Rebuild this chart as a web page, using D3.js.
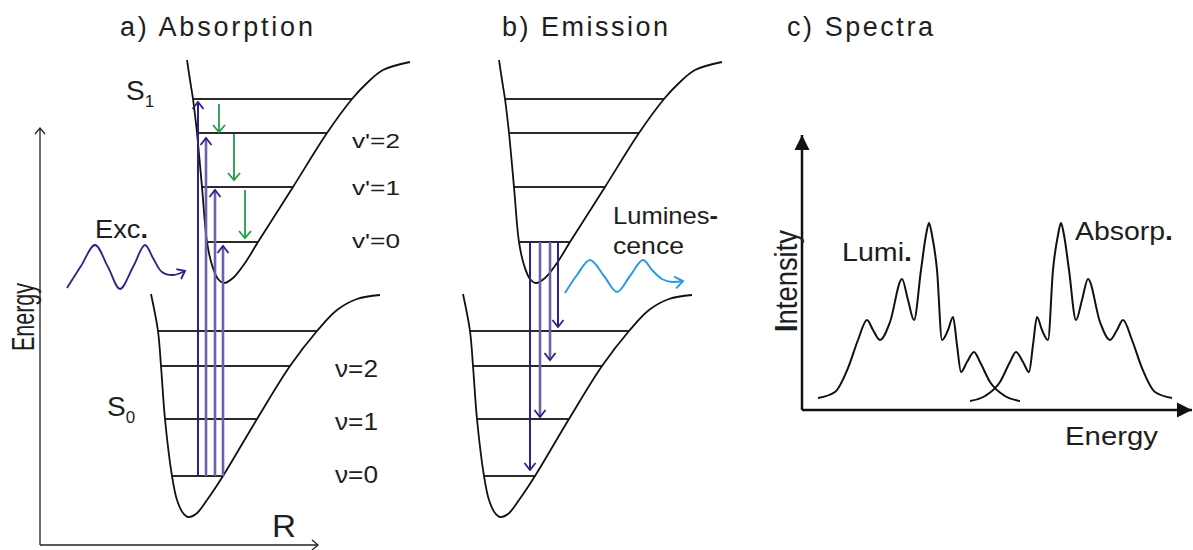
<!DOCTYPE html>
<html lang="en">
<head>
<meta charset="UTF-8">
<title>Absorption / emission / spectra</title>
<script src="https://d3js.org/d3.v7.min.js"></script>
<style>
  body, html { margin: 0; background: #fff; }
  text { font-family: "Liberation Sans", Arial, sans-serif; fill: #1e1e1e; }
</style>
</head>
<body>
<div id="chart"></div>
<script>
// potential curves as (R, E) pairs, arbitrary units
var s1Curve = [[14.7,48.7],[15.0,46.7],[15.3,44.8],[15.7,41.4],[16.2,36.0],[16.7,30.5],[17.2,28.2],[17.8,26.8],
  [18.4,26.4],[19.3,26.9],[20.5,28.4],[21.8,30.5],[25.3,36.0],[28.7,41.4],[31.2,44.8],[32.7,46.4],[34.3,47.7],[37.0,48.5]];
var s0Curve = [[11.1,25.3],[11.8,21.6],[12.1,18.1],[12.5,12.8],[13.2,7.1],[13.7,4.7],[14.3,3.4],[14.8,3.0],[15.6,3.3],
  [16.7,4.7],[18.3,7.1],[21.7,12.8],[25.0,18.1],[27.7,21.6],[29.7,23.7],[31.7,24.8],[34.0,25.2]];

// vibrational levels (energy, left and right R)
var s1LevelE = [44.8, 41.4, 36.0, 30.5];
var s1LevelLeft = [15.3, 15.8, 16.1, 16.8];
var s1LevelRight = [31.2, 28.7, 25.3, 21.8];
var s0LevelE = [21.6, 18.1, 12.8, 7.1];
var s0LevelLeft = [11.8, 12.1, 12.5, 13.2];
var s0LevelRight = [27.7, 25.0, 21.7, 18.3];
var s1Labels = ["v'=2", "v'=1", "v'=0"];
var s0Labels = ["\u03bd=2", "\u03bd=1", "\u03bd=0"];

// transitions
var absR = [15.8, 16.6, 17.5, 18.3];
var absTop = [44.5, 40.9, 35.7, 30.1];
var relaxR = [17.9, 19.4, 20.5];
var relaxFrom = [44.3, 41.3, 35.7];
var relaxTo = [41.5, 36.7, 30.9];
var emR = [17.8, 18.8, 19.8, 20.6];
var emTo = [7.7, 13.0, 18.7, 22.0];

// photons
var excWave = [[2.7,25.9],[4.1,28.1],[5.5,30.2],[6.8,28.0],[8.0,25.8],[9.3,28.0],[10.5,30.2],[11.3,28.9],
  [12.2,27.5],[13.3,27.2],[14.5,27.6]];
var lumWave = [[21.3,25.4],[22.5,27.2],[23.8,28.7],[25.2,27.1],[26.5,25.5],[27.8,27.1],[29.1,28.7],[30.0,27.7],
  [31.0,26.8],[32.0,26.5],[33.1,26.6]];

// spectra (energy, intensity)
var lumSpectrum = [[1.6,1.2],[3.3,1.8],[4.6,4.2],[5.6,7.0],[6.5,9.0],[7.1,8.0],[7.8,7.0],[8.8,8.8],[10.0,13.1],
  [10.6,11.0],[11.2,9.0],[11.9,14.0],[12.4,17.5],[12.7,18.7],[13.0,17.5],[13.5,14.0],[14.0,7.0],[14.6,8.0],
  [15.1,9.3],[15.5,6.5],[15.9,3.8],[16.5,4.8],[17.2,5.8],[17.8,4.8],[18.8,2.8],[20.3,1.4],[21.8,0.9]];
var absSpectrum = [[16.8,0.9],[18.3,1.4],[19.8,2.8],[20.8,4.8],[21.4,5.8],[22.1,4.8],[22.7,3.8],[23.1,6.5],
  [23.5,9.3],[24.0,8.0],[24.6,7.0],[25.1,14.0],[25.6,17.5],[25.9,18.7],[26.2,17.5],[26.7,14.0],[27.4,9.0],
  [28.0,11.0],[28.6,13.1],[29.8,8.8],[30.8,7.0],[31.5,8.0],[32.1,9.0],[33.0,7.0],[34.0,4.2],[35.3,1.8],[37.0,1.2]];

var width = 1193, height = 550;
var svg = d3.select("#chart").append("svg")
  .attr("width", width).attr("height", height);

var eScale = d3.scaleLinear().domain([0, 42]).range([547, 127]);
var rA = d3.scaleLinear().domain([0, 28]).range([40, 320]);
var rB = d3.scaleLinear().domain([0, 28]).range([352, 632]);
var xC = d3.scaleLinear().domain([0, 39]).range([802, 1192]);
var yC = d3.scaleLinear().domain([0, 27.5]).range([410, 135]);

var purple = "#2e1f8a", lilac = "#6c62ab", green = "#1f9e48", blue = "#2b9ae6";

// arrow heads
var defs = svg.append("defs");
function addMarker(id, color, w, l, filled, sw) {
  defs.append("marker").attr("id", id)
    .attr("viewBox", "0 " + (-w) + " " + l + " " + (2 * w))
    .attr("refX", l).attr("refY", 0)
    .attr("markerWidth", l).attr("markerHeight", 2 * w)
    .attr("markerUnits", "userSpaceOnUse")
    .attr("orient", "auto")
    .style("overflow", "visible")
    .append("path")
    .attr("d", filled ? "M0," + (-w) + "L" + l + ",0L0," + w + "Z" : "M0," + (-w) + "L" + l + ",0L0," + w)
    .attr("fill", filled ? color : "none")
    .attr("stroke", filled ? "none" : color)
    .attr("stroke-width", sw || 1.8)
    .attr("stroke-linejoin", "miter");
}
addMarker("m-purple", purple, 5.5, 7, false, 1.8);
addMarker("m-green", green, 6, 7, false, 1.8);
addMarker("m-blue", blue, 6, 8, false, 2);
addMarker("m-black", "#222", 5, 6, false, 1.3);
addMarker("m-fill", "#111", 7.5, 15, true);

function label(g, x, y, str, size, len, adjust) {
  var t = g.append("text").attr("x", x).attr("y", y).attr("font-size", size).text(str);
  if (len) t.attr("textLength", len).attr("lengthAdjust", adjust || "spacingAndGlyphs");
  return t;
}

function drawPanel(rx, withAbsorption) {
  var g = svg.append("g");
  var curve = d3.line().x(d => rx(d[0])).y(d => eScale(d[1])).curve(d3.curveCatmullRom.alpha(0.5));

  // vibrational levels
  s1LevelE.forEach((e, i) => {
    g.append("line").attr("x1", rx(s1LevelLeft[i])).attr("x2", rx(s1LevelRight[i]))
      .attr("y1", eScale(e)).attr("y2", eScale(e))
      .attr("stroke", "#2a2a2a").attr("stroke-width", 1.8);
  });
  s0LevelE.forEach((e, i) => {
    g.append("line").attr("x1", rx(s0LevelLeft[i])).attr("x2", rx(s0LevelRight[i]))
      .attr("y1", eScale(e)).attr("y2", eScale(e))
      .attr("stroke", "#2a2a2a").attr("stroke-width", 1.8);
  });

  [s1Curve, s0Curve].forEach(c => {
    g.append("path").attr("d", curve(c)).attr("fill", "none")
      .attr("stroke", "#111").attr("stroke-width", 1.8);
  });

  if (withAbsorption) {
    absR.forEach((r, i) => {
      g.append("line").attr("x1", rx(r)).attr("x2", rx(r))
        .attr("y1", eScale(s0LevelE[3])).attr("y2", eScale(absTop[i]))
        .attr("stroke", i === 0 ? purple : lilac).attr("stroke-width", i === 0 ? 2 : 2.6)
        .attr("marker-end", "url(#m-purple)");
    });
    relaxR.forEach((r, i) => {
      g.append("line").attr("x1", rx(r)).attr("x2", rx(r))
        .attr("y1", eScale(relaxFrom[i])).attr("y2", eScale(relaxTo[i]))
        .attr("stroke", green).attr("stroke-width", 1.8)
        .attr("marker-end", "url(#m-green)");
    });
    g.append("path").attr("d", curve(excWave)).attr("fill", "none")
      .attr("stroke", purple).attr("stroke-width", 1.8)
      .attr("marker-end", "url(#m-purple)");
  } else {
    emR.forEach((r, i) => {
      var dark = i === 0 || i === 3;
      g.append("line").attr("x1", rx(r)).attr("x2", rx(r))
        .attr("y1", eScale(s1LevelE[3])).attr("y2", eScale(emTo[i]))
        .attr("stroke", dark ? purple : lilac).attr("stroke-width", dark ? 2 : 2.6)
        .attr("marker-end", "url(#m-purple)");
    });
    g.append("path").attr("d", curve(lumWave)).attr("fill", "none")
      .attr("stroke", blue).attr("stroke-width", 2)
      .attr("marker-end", "url(#m-blue)");
  }
  return g;
}

// panel a
var ga = drawPanel(rA, true);
ga.append("line").attr("x1", rA(0)).attr("x2", rA(0))
  .attr("y1", eScale(0.2)).attr("y2", eScale(41.9))
  .attr("stroke", "#222").attr("stroke-width", 1.3).attr("marker-end", "url(#m-black)");
ga.append("line").attr("x1", rA(0)).attr("x2", rA(27.8))
  .attr("y1", eScale(0.2)).attr("y2", eScale(0.2))
  .attr("stroke", "#222").attr("stroke-width", 1.3).attr("marker-end", "url(#m-black)");

label(svg, 120, 36, "a) Absorption", 27, 193, "spacing");
var s1t = label(svg, 126, 100, "S", 28);
s1t.append("tspan").attr("font-size", 17).attr("dy", 7).text("1");
var s0t = label(svg, 107, 416, "S", 28);
s0t.append("tspan").attr("font-size", 17).attr("dy", 7).text("0");
s1Labels.forEach((t, i) => label(svg, 352, [148, 195, 248][i], t, 21, 48));
s0Labels.forEach((t, i) => label(svg, 335, [377, 430, 483][i], t, 23, 43));
var exc = label(svg, 95, 238, "Exc", 25, 53);
exc.append("tspan").attr("font-weight", "bold").text(".");
label(svg, 272, 537, "R", 31, 24);
svg.append("text").attr("font-size", 24)
  .attr("transform", "translate(34,351) scale(1.3,1) rotate(-90)")
  .attr("textLength", 68).attr("lengthAdjust", "spacingAndGlyphs")
  .text("Energy");

// panel b
drawPanel(rB, false);
label(svg, 502, 36, "b) Emission", 27, 166, "spacing");
var lum = label(svg, 613, 224, "Lumines", 24, 105);
lum.append("tspan").attr("font-weight", "bold").text("-");
label(svg, 613, 254, "cence", 24, 71);

// panel c
var gc = svg.append("g");
var spec = d3.line().x(d => xC(d[0])).y(d => yC(d[1])).curve(d3.curveMonotoneX);
[lumSpectrum, absSpectrum].forEach(s => {
  gc.append("path").attr("d", spec(s)).attr("fill", "none")
    .attr("stroke", "#111").attr("stroke-width", 2);
});
gc.append("line").attr("x1", xC(0)).attr("x2", xC(0)).attr("y1", yC(0)).attr("y2", yC(27.5))
  .attr("stroke", "#111").attr("stroke-width", 2.5).attr("marker-end", "url(#m-fill)");
gc.append("line").attr("x1", xC(0)).attr("x2", xC(39)).attr("y1", yC(0)).attr("y2", yC(0))
  .attr("stroke", "#111").attr("stroke-width", 2.5).attr("marker-end", "url(#m-fill)");

label(svg, 787, 36, "c) Spectra", 27, 146, "spacing");
var lumi = label(svg, 842, 261, "Lumi", 25, 70);
lumi.append("tspan").attr("font-weight", "bold").text(".");
var absp = label(svg, 1075, 240, "Absorp", 25, 98);
absp.append("tspan").attr("font-weight", "bold").text(".");
label(svg, 1065, 445, "Energy", 25, 93);
var inten = svg.append("text").attr("font-size", 25)
  .attr("transform", "translate(797,332) scale(1.25,1) rotate(-90)")
  .attr("textLength", 102).attr("lengthAdjust", "spacingAndGlyphs");
inten.append("tspan").attr("font-weight", "bold").text("I");
inten.append("tspan").text("ntensity");
</script>
</body>
</html>
